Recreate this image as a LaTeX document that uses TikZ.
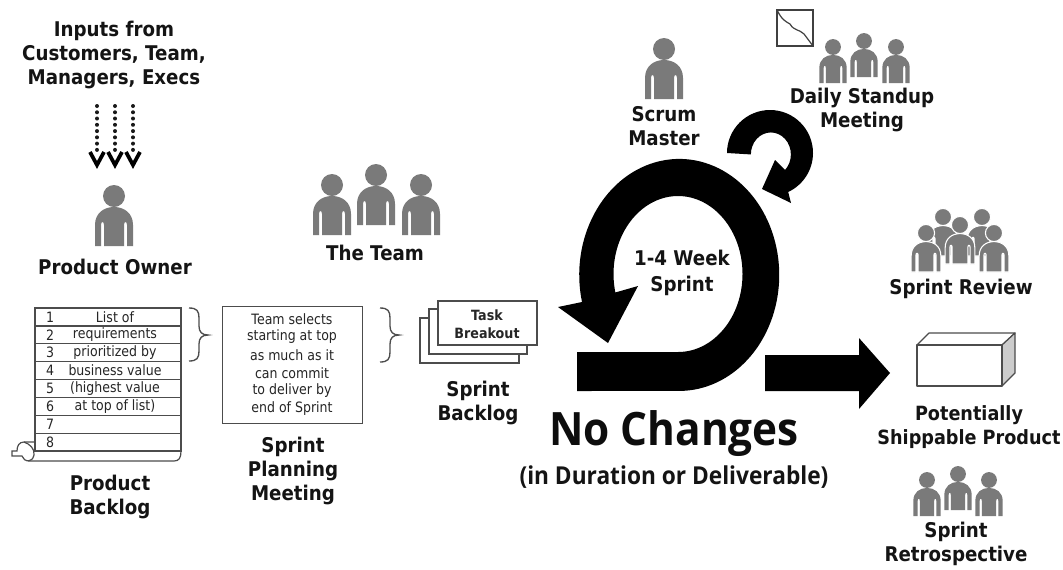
\documentclass[tikz,border=0pt]{standalone}
\usepackage{fontspec}
\setmainfont{DejaVu Sans}[FakeStretch=0.9]
\newfontfamily\bigfont{Open Sans}[FakeStretch=0.92]
\newfontfamily\tabfont{DejaVu Sans}[FakeStretch=0.88]
\tikzset{
  lbl/.style={font=\fontsize{15.2}{18}\selectfont\bfseries,align=center,inner sep=0pt,text=black!92},
  small/.style={font=\fontsize{10.7}{13.5}\selectfont\tabfont,inner sep=0pt,text=black!85},
  cardlbl/.style={font=\fontsize{10.6}{13.5}\selectfont\bfseries,align=center,inner sep=0pt,text=black!85},
  rule/.style={draw=black!70,line width=0.9pt},
  solidblack/.style={fill=black,draw=none},
  crowd/.style={fill=black!52,draw=none},
}
\newcommand{\personshape}[3]{%
 \begin{scope}[shift={(#1,#2)},scale=#3]
  \fill[crowd] (0,-50) circle (11);
  \fill[crowd] (-19,0) -- (-19,-21) .. controls (-19,-33) and (-10,-39) .. (0,-39)
     .. controls (10,-39) and (19,-33) .. (19,-21) -- (19,0) -- (13,0) -- (13,-21)
     .. controls (13,-25) and (10,-25) .. (10,-21) -- (10,0) -- (-10,0) -- (-10,-21)
     .. controls (-10,-25) and (-13,-25) .. (-13,-21) -- (-13,0) -- cycle;
 \end{scope}}
\newcommand{\cutperson}[3]{%
 \begin{scope}[shift={(#1,#2)},scale=#3]
  \path[crowd,draw=white,line width=0.8pt] (0,-50) circle (11);
  \path[crowd,draw=white,line width=0.8pt] (-19,0) -- (-19,-21) .. controls (-19,-33) and (-10,-39) .. (0,-39)
     .. controls (10,-39) and (19,-33) .. (19,-21) -- (19,0) -- (13,0) -- (13,-21)
     .. controls (13,-25) and (10,-25) .. (10,-21) -- (10,0) -- (-10,0) -- (-10,-21)
     .. controls (-10,-25) and (-13,-25) .. (-13,-21) -- (-13,0) -- cycle;
 \end{scope}}
\begin{document}
\begin{tikzpicture}[x=0.75pt,y=0.75pt,yscale=-1]
\useasboundingbox (0,0) rectangle (1063,569);
\fill[white] (0,0) rectangle (1063,569);
% inputs
\node[lbl] (inputs) at (114,55) {Inputs from\\Customers, Team,\\Managers, Execs};
\foreach \n/\xx in {a/97,b/115,c/133}{
  \coordinate (top\n) at (\xx,106);
  \coordinate (bot\n) at (\xx,150);
  \coordinate (tip\n) at (\xx,165);
  \draw[line width=3pt,line cap=round,dash pattern=on 0pt off 4.7pt,black!90] (top\n) -- (bot\n);
  \draw[line width=2.8pt,black] (\xx-7,152) -- (tip\n) -- (\xx+7,152);
}
\personshape{114}{246}{1}
\node[lbl] (owner) at (115,267) {Product Owner};
% team
\personshape{332}{235}{1}
\personshape{376}{225}{1}
\personshape{421}{235}{1}
\node[lbl] (team) at (375,253) {The Team};
% backlog
\draw[rule] (35,308) rectangle (181,451);
\foreach \yy in {326,343.5,361.5,379.5,397.5,415.5,433.5}{\draw[rule] (35,\yy) -- (181,\yy);}
\draw[rule] (181,451) .. controls (181,458) and (179,461) .. (174,461) -- (30,461);
\draw[rule] (35,442) -- (24,442) .. controls (19,442) and (17,446) .. (17,451) -- (12,451) -- (12,456) -- (22,456)
   .. controls (23,459) and (25,461) .. (30,461);
\draw[rule] (24,442) .. controls (30,444) and (35,449) .. (34,455) .. controls (33,459) and (31,461) .. (28,461);
\foreach \yy/\num/\txt in {317/1/List of,335/2/requirements,352.5/3/prioritized by,370.5/4/business value,388.5/5/(highest value,406.5/6/at top of list),424.5/7/,442.5/8/}{
  \node[small] (n\num) at (50,\yy) {\num};
  \node[small] (t\num) at (115,\yy) {\txt};
}
\node[lbl] (pback) at (110,497) {Product\\Backlog};
\draw[rule,line width=1pt] (189,308) .. controls (197,308) and (199,311) .. (199,318) -- (199,326) .. controls (199,332) and (202,335) .. (208,335)
   .. controls (202,335) and (199,338) .. (199,344) -- (199,351) .. controls (199,358) and (197,361) .. (189,361);
% planning
\node[draw=black!70,line width=0.9pt,minimum width=105pt,minimum height=87.75pt,inner sep=0pt,anchor=north west] (plan) at (222,306) {};
\foreach \yy/\k/\txt in {319/1/Team selects,337/2/starting at top,355/3/as much as it,373/4/can commit,391/5/to deliver by,409/6/end of Sprint}{
  \node[small] (p\k) at (292,\yy) {\txt};
}
\node[lbl] (spm) at (293,471) {Sprint\\Planning\\Meeting};
\draw[rule,line width=1pt] (380,308) .. controls (388,308) and (390,311) .. (390,318) -- (390,326) .. controls (390,332) and (393,335) .. (399,335)
   .. controls (393,335) and (390,338) .. (390,344) -- (390,352) .. controls (390,359) and (388,362) .. (380,362);
% cards
\draw[rule,fill=white] (420,318) rectangle (519,363);
\draw[rule,fill=white] (429,309) rectangle (527,354);
\draw[rule,fill=white] (438,301) rectangle (537,345);
\node[cardlbl] (task) at (487,324) {Task\\Breakout};
\node[lbl] (sback) at (478,403) {Sprint\\Backlog};
% big spiral
\fill[solidblack] (577,352) -- (678,352) arc[start angle=90,end angle=-193.7,x radius=64.5,y radius=78]
  -- (638,286) -- (608,343) -- (558,307) -- (582,302)
  arc[start angle=-193.5,end angle=90,x radius=100,y radius=116] -- (577,391) -- cycle;
% small spiral
\fill[solidblack] (727,153) arc[start angle=180,end angle=425,x radius=43,y radius=43]
  -- (791,203) -- (762,189) -- (775,160) -- (785,170)
  arc[start angle=405,end angle=180,x radius=20,y radius=22] -- cycle;
\node[lbl] (sprint) at (682,273) {1-4 Week\\[1pt]Sprint};
% arrow
\fill[solidblack] (765,355) -- (859,355) -- (859,338) -- (890,373) -- (859,409) -- (859,391) -- (765,391) -- cycle;
% scrum master
\personshape{664}{99}{1}
\node[lbl] (sm) at (664,126) {Scrum\\Master};
% chart
\draw[black!75,line width=0.9pt] (777,10) rectangle (813,46);
\draw[black!75,line width=0.9pt] (777,10) .. controls (782,20) and (785,21) .. (790,24) .. controls (794,31) and (799,29) .. (804,34) .. controls (807,38) and (810,42) .. (813,46);
% daily
\personshape{833}{83}{0.72}
\personshape{864}{77}{0.72}
\personshape{896}{83}{0.72}
\node[lbl] (daily) at (862,110) {Daily Standup\\Meeting};
% review
\cutperson{943}{256}{0.78}
\cutperson{982}{256}{0.78}
\cutperson{960}{264}{0.78}
\cutperson{926}{272}{0.78}
\cutperson{994}{272}{0.78}
\node[lbl] (review) at (961,289) {Sprint Review};
% product box
\draw[rule,fill=white,line join=round] (917,345) -- (929,333) -- (1015,333) -- (1002,345) -- cycle;
\draw[rule,fill=black!20,line join=round] (1002,345) -- (1015,333) -- (1015,373) -- (1002,386) -- cycle;
\draw[rule,fill=white,line join=round] (917,345) rectangle (1002,386);
\node[lbl,font=\fontsize{14.7}{18}\selectfont\bfseries] (ship) at (969,427) {Potentially\\Shippable Product};
% retro
\personshape{927}{516}{0.72}
\personshape{958}{510}{0.72}
\personshape{989}{516}{0.72}
\node[lbl] (retro) at (956,544) {Sprint\\Retrospective};
% no changes
\node[inner sep=0pt,font=\fontsize{34.5}{40}\selectfont\bigfont\bfseries,text=black!95] (nc) at (674,434) {No Changes};
\node[inner sep=0pt,font=\fontsize{18.5}{22}\selectfont\bigfont\bfseries,text=black!92] (dur) at (674,477) {(in Duration or Deliverable)};
\end{tikzpicture}
\end{document}
